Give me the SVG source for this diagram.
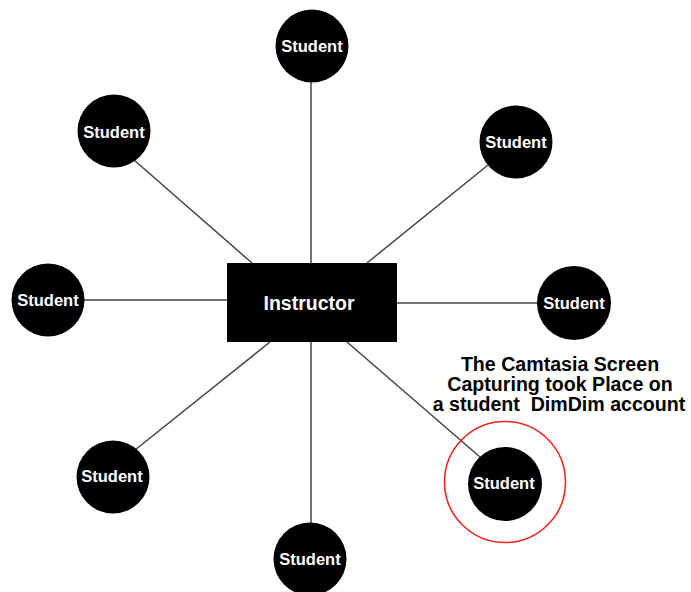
<svg xmlns="http://www.w3.org/2000/svg" width="691" height="592" viewBox="0 0 691 592">
<style>
.edge{stroke:#444;stroke-width:1.5;fill:none}
.stu{fill:#000}
.lbl{fill:#fff;font-family:"Liberation Sans",Arial,sans-serif;font-weight:bold;font-size:16.5px;text-anchor:middle}
.note{fill:#000;font-family:"Liberation Sans",Arial,sans-serif;font-weight:bold;font-size:19.6px;text-anchor:middle}
</style>
<rect width="691" height="592" fill="#fff"/>
<g id="connectors">
<line class="edge" x1="311" y1="80" x2="311" y2="263"/>
<line class="edge" x1="134" y1="160" x2="252" y2="263"/>
<line class="edge" x1="488" y1="165" x2="367" y2="263"/>
<line class="edge" x1="84" y1="300" x2="227" y2="300"/>
<line class="edge" x1="397" y1="303" x2="538" y2="303"/>
<line class="edge" x1="270" y1="342" x2="135" y2="450"/>
<line class="edge" x1="311" y1="342" x2="311" y2="523"/>
<line class="edge" x1="347" y1="342" x2="480" y2="457"/>
</g>
<g id="instructor">
<rect x="227" y="263" width="170" height="79" fill="#000"/>
<text x="309" y="310" fill="#fff" font-family="Liberation Sans, Arial, sans-serif" font-weight="bold" font-size="19.5" text-anchor="middle">Instructor</text>
</g>
<g id="student-top"><circle class="stu" cx="312" cy="46" r="36.5"/><text class="lbl" x="312" y="52">Student</text></g>
<g id="student-upper-left"><circle class="stu" cx="114" cy="131" r="36.5"/><text class="lbl" x="114" y="138">Student</text></g>
<g id="student-upper-right"><circle class="stu" cx="516" cy="142" r="36.5"/><text class="lbl" x="516" y="148">Student</text></g>
<g id="student-left"><circle class="stu" cx="48" cy="300" r="36.5"/><text class="lbl" x="48" y="306">Student</text></g>
<g id="student-right"><circle class="stu" cx="574" cy="303" r="37"/><text class="lbl" x="574" y="309">Student</text></g>
<g id="student-lower-left"><circle class="stu" cx="113" cy="477" r="36.5"/><text class="lbl" x="112" y="482">Student</text></g>
<g id="student-bottom"><circle class="stu" cx="310" cy="559" r="36.5"/><text class="lbl" x="310" y="565">Student</text></g>
<g id="student-lower-right">
<circle class="stu" cx="505" cy="484" r="37"/><text class="lbl" x="504" y="489">Student</text>
<circle cx="505" cy="482" r="60.5" fill="none" stroke="#e22" stroke-width="1.5"/>
</g>
<g id="note">
<text class="note" x="560" y="371">The Camtasia Screen</text>
<text class="note" x="560" y="391">Capturing took Place on</text>
<text class="note" x="559" y="411" xml:space="preserve">a student  DimDim account</text>
</g>
</svg>
